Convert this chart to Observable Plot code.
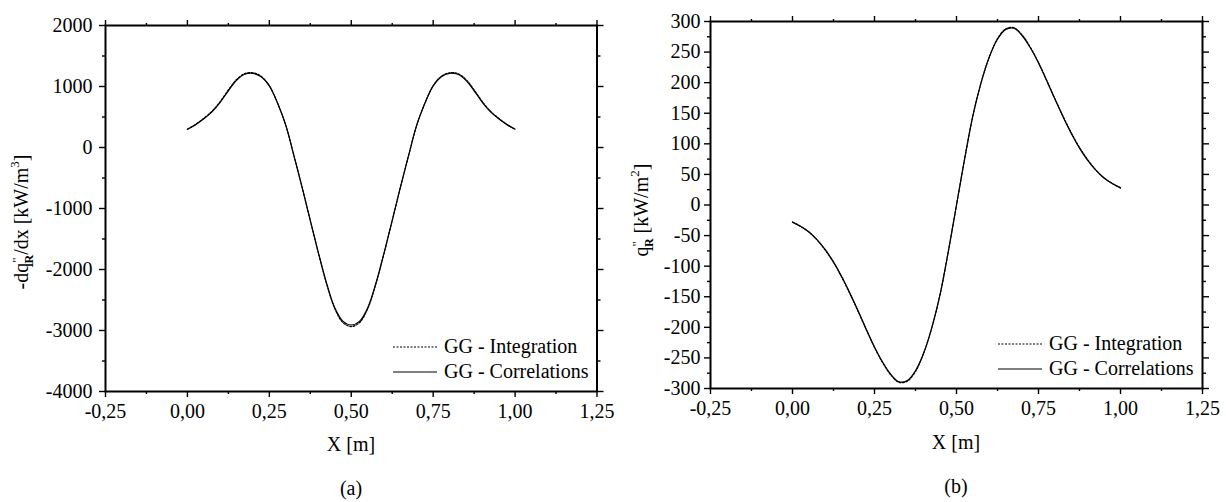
<!DOCTYPE html>
<html><head><meta charset="utf-8">
<script src="https://cdn.jsdelivr.net/npm/d3@7"></script>
<script src="https://cdn.jsdelivr.net/npm/@observablehq/plot@0.6"></script>
<style>
body{margin:0;background:#fff;}
#wrap{position:relative;width:1226px;height:502px;overflow:hidden;background:#fff;}
#wrap svg{position:absolute;top:0;background:transparent !important;}
#wrap svg, #wrap svg text{font-family:"Liberation Serif","DejaVu Serif","Times New Roman",serif !important;}
</style></head><body><div id="wrap"></div>
<script>
// ---- data ----
const xPos = [0,0.025,0.05,0.075,0.1,0.125,0.15,0.175,0.2,0.225,0.25,0.275,0.3,0.325,0.35,0.375,0.4,0.425,0.45,0.475,0.5,
  0.525,0.55,0.575,0.6,0.625,0.65,0.675,0.7,0.725,0.75,0.775,0.8,0.825,0.85,0.875,0.9,0.925,0.95,0.975,1];

// (a) -dq''/dx [kW/m3]
const dqCorrelations = [300,375,470,585,740,930,1100,1200,1215,1160,1010,730,370,-130,-650,-1195,-1730,-2230,-2630,-2850,-2910,
  -2850,-2630,-2230,-1730,-1195,-650,-130,370,730,1010,1160,1215,1200,1100,930,740,585,470,375,300];
const dqIntegration = [298,378,478,595,752,945,1115,1212,1225,1168,1012,728,366,-134,-655,-1200,-1738,-2240,-2645,-2872,-2935,
  -2872,-2645,-2240,-1738,-1200,-655,-134,366,728,1012,1168,1225,1212,1115,945,752,595,478,378,298];

// (b) q''_R [kW/m2]
const qCorrelations = [-28,-35,-44,-57,-73,-93,-117,-144,-173,-203,-232,-257,-277,-289,-287,-271,-242,-200,-146,-76,0,
  76,146,200,242,271,287,289,277,257,232,203,173,144,117,93,73,57,44,35,28];
const qIntegration = [-28,-35,-44,-57,-74,-94,-118,-145,-174,-204,-233,-258,-278,-290,-288,-272,-242,-200,-146,-76,0,
  76,146,200,242,272,288,290,278,258,233,204,174,145,118,94,74,57,44,35,28];

const xMajorTicks = [-0.25,0,0.25,0.5,0.75,1,1.25];
const xMinorTicks = [-0.125,0.125,0.375,0.625,0.875,1.125];
const yMajorTicksA = [-4000,-3000,-2000,-1000,0,1000,2000];
const yMinorTicksA = [-3500,-2500,-1500,-500,500,1500];
const yMajorTicksB = [-300,-250,-200,-150,-100,-50,0,50,100,150,200,250,300];
const yMinorTicksB = [-275,-225,-175,-125,-75,-25,25,75,125,175,225,275];

const legendLabels = ["GG - Integration", "GG - Correlations"];

// ---- drawing ----
const FONT = "\"Liberation Serif\", \"DejaVu Serif\", \"Times New Roman\", serif";
const fmtX = d => d.toFixed(2).replace(".", ",");
const fmtY = d => String(d);
const blank = () => "";

function frameAxes(xMaj, xMin, yMaj, yMin, yPad) {
  const common = {label: null, strokeWidth: 1.4};
  return [
    Plot.axisX({...common, ticks: xMaj, anchor: "bottom", tickSize: 6, tickPadding: 6, tickFormat: fmtX}),
    Plot.axisX({...common, ticks: xMin, anchor: "bottom", tickSize: 3, tickFormat: blank}),
    Plot.axisX({...common, ticks: xMaj, anchor: "top", tickSize: 6, tickFormat: blank}),
    Plot.axisX({...common, ticks: xMin, anchor: "top", tickSize: 3, tickFormat: blank}),
    Plot.axisY({...common, ticks: yMaj, anchor: "left", tickSize: 6, tickPadding: yPad, tickFormat: fmtY}),
    Plot.axisY({...common, ticks: yMin, anchor: "left", tickSize: 3, tickFormat: blank}),
    Plot.axisY({...common, ticks: yMaj, anchor: "right", tickSize: 6, tickFormat: blank}),
    Plot.axisY({...common, ticks: yMin, anchor: "right", tickSize: 3, tickFormat: blank}),
    Plot.frame({stroke: "black", strokeWidth: 2})
  ];
}

function panel({width, height, margins, yDomain, yMaj, yMin, yPad, rows}) {
  return Plot.plot({
    width, height, ...margins,
    style: {fontFamily: FONT, fontSize: "20px", color: "black", background: "transparent", overflow: "visible"},
    x: {domain: [-0.25, 1.25], label: null},
    y: {domain: yDomain, label: null},
    marks: [
      ...frameAxes(xMajorTicks, xMinorTicks, yMaj, yMin, yPad),
      Plot.line(rows, {x: "x", y: "integ", stroke: "black", strokeWidth: 1.2, strokeDasharray: "2,1.5", curve: "catmull-rom"}),
      Plot.line(rows, {x: "x", y: "corr", stroke: "black", strokeWidth: 1.2, curve: "catmull-rom"})
    ]
  });
}

const rowsA = xPos.map((x, i) => ({x, corr: dqCorrelations[i], integ: dqIntegration[i]}));
const rowsB = xPos.map((x, i) => ({x, corr: qCorrelations[i], integ: qIntegration[i]}));

const wrap = document.getElementById("wrap");

const svgA = panel({width: 610, height: 502,
  margins: {marginLeft: 105, marginRight: 13.5, marginTop: 25, marginBottom: 111},
  yDomain: [-4000, 2000], yMaj: yMajorTicksA, yMin: yMinorTicksA, yPad: 7, rows: rowsA});
svgA.style.left = "0px";
wrap.appendChild(svgA);

const svgB = panel({width: 616, height: 502,
  margins: {marginLeft: 100, marginRight: 24, marginTop: 21, marginBottom: 114},
  yDomain: [-300, 300], yMaj: yMajorTicksB, yMin: yMinorTicksB, yPad: 4, rows: rowsB});
svgB.style.left = "610px";
wrap.appendChild(svgB);

function addTexts(svgEl, o) {
  const s = d3.select(svgEl);
  const g = s.append("g").style("font-family", FONT).style("font-size", "20px").attr("fill", "black");
  // x label and caption
  g.append("text").attr("x", o.cx).attr("y", o.xlabY).attr("text-anchor", "middle").text("X [m]");
  g.append("text").attr("x", o.cx).attr("y", o.capY).attr("text-anchor", "middle").text(o.caption);
  // y label
  const t = g.append("text").attr("transform", `translate(${o.ylx},${o.yly}) rotate(-90)`).attr("text-anchor", "middle");
  t.append("tspan").text(o.yPre);
  t.append("tspan").attr("dy", -7).style("font-size", "13px").text("\"");
  t.append("tspan").attr("dx", -6).attr("dy", 12).style("font-size", "12px").style("font-weight", "bold").text("R");
  t.append("tspan").attr("dy", -5).text(o.yMid);
  t.append("tspan").attr("dy", -9).style("font-size", "13px").text(o.yExp);
  t.append("tspan").attr("dy", 9).text("]");
  // legend
  legendLabels.forEach((lab, i) => {
    const y = o.legY + i * 25;
    g.append("line").attr("x1", o.legX).attr("x2", o.legX + 44).attr("y1", y).attr("y2", y)
      .attr("stroke", "black").attr("stroke-width", 1.2).attr("stroke-dasharray", i === 0 ? "2,1.5" : null);
    g.append("text").attr("x", o.legX + 51).attr("y", y).attr("dy", "0.32em").attr("text-anchor", "start").text(lab);
  });
}

addTexts(svgA, {cx: 351, xlabY: 451, capY: 495, caption: "(a)", ylx: 28, yly: 222,
  yPre: "-dq", yMid: "/dx [kW/m", yExp: "3", legX: 393, legY: 347});
addTexts(svgB, {cx: 346, xlabY: 449, capY: 493, caption: "(b)", ylx: 38, yly: 210,
  yPre: "q", yMid: " [kW/m", yExp: "2", legX: 388, legY: 344});
</script></body></html>
